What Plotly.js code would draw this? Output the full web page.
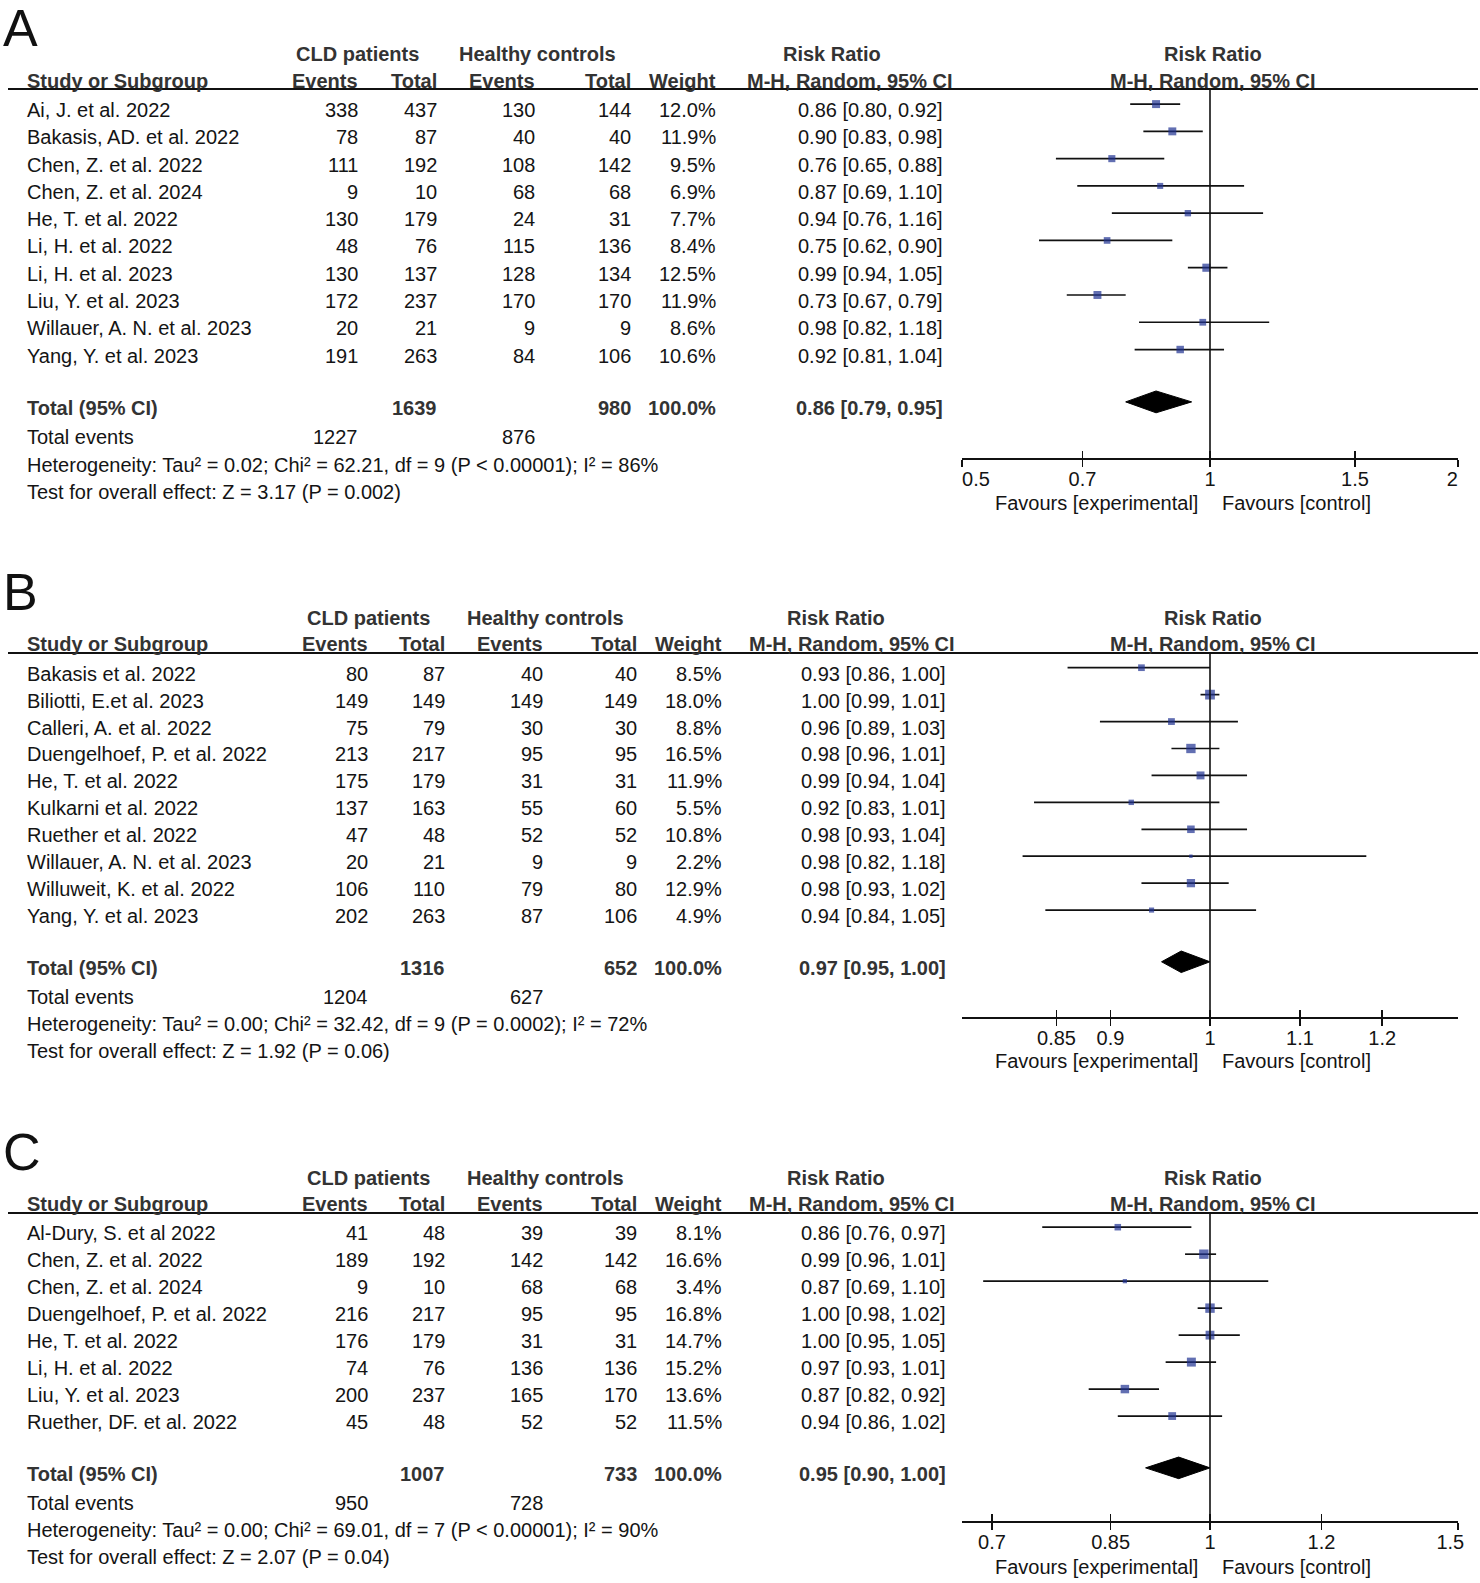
<!DOCTYPE html>
<html>
<head>
<meta charset="utf-8">
<script src="https://cdn.plot.ly/plotly-3.0.1.min.js"></script>
<style>
html,body{margin:0;padding:0;background:#ffffff;}
#chart{width:1480px;height:1583px;}
</style>
</head>
<body>
<div id="chart"></div>
<script>
// ================= DATA : Panel A =================
const studiesA = ["Ai, J. et al. 2022","Bakasis, AD. et al. 2022","Chen, Z. et al. 2022","Chen, Z. et al. 2024","He, T. et al. 2022","Li, H. et al. 2022","Li, H. et al. 2023","Liu, Y. et al. 2023","Willauer, A. N. et al. 2023","Yang, Y. et al. 2023"];
const evCldA  = [338, 78, 111, 9, 130, 48, 130, 172, 20, 191];
const totCldA = [437, 87, 192, 10, 179, 76, 137, 237, 21, 263];
const evHcA   = [130, 40, 108, 68, 24, 115, 128, 170, 9, 84];
const totHcA  = [144, 40, 142, 68, 31, 136, 134, 170, 9, 106];
const weightA = [12.0, 11.9, 9.5, 6.9, 7.7, 8.4, 12.5, 11.9, 8.6, 10.6];
const rrA     = [0.86, 0.90, 0.76, 0.87, 0.94, 0.75, 0.99, 0.73, 0.98, 0.92];
const loA     = [0.80, 0.83, 0.65, 0.69, 0.76, 0.62, 0.94, 0.67, 0.82, 0.81];
const hiA     = [0.92, 0.98, 0.88, 1.10, 1.16, 0.90, 1.05, 0.79, 1.18, 1.04];
const pooledA = [0.86, 0.79, 0.95];
const totalsA = [1639, 980];
const totalEventsA = [1227, 876];
const hetA  = "Heterogeneity: Tau² = 0.02; Chi² = 62.21, df = 9 (P < 0.00001); I² = 86%";
const testA = "Test for overall effect: Z = 3.17 (P = 0.002)";
const ticksA = [0.5, 0.7, 1, 1.5, 2];
const tickLabelsA = ["\u00a0\u00a0\u00a0\u00a0\u00a00.5", "0.7", "1", "1.5", "2\u00a0\u00a0"];
const axisRangeA = [0.5, 2];

// ================= DATA : Panel B =================
const studiesB = ["Bakasis et al. 2022","Biliotti, E.et al. 2023","Calleri, A. et al. 2022","Duengelhoef, P. et al. 2022","He, T. et al. 2022","Kulkarni et al. 2022","Ruether et al. 2022","Willauer, A. N. et al. 2023","Willuweit, K. et al. 2022","Yang, Y. et al. 2023"];
const evCldB  = [80, 149, 75, 213, 175, 137, 47, 20, 106, 202];
const totCldB = [87, 149, 79, 217, 179, 163, 48, 21, 110, 263];
const evHcB   = [40, 149, 30, 95, 31, 55, 52, 9, 79, 87];
const totHcB  = [40, 149, 30, 95, 31, 60, 52, 9, 80, 106];
const weightB = [8.5, 18.0, 8.8, 16.5, 11.9, 5.5, 10.8, 2.2, 12.9, 4.9];
const rrB     = [0.93, 1.00, 0.96, 0.98, 0.99, 0.92, 0.98, 0.98, 0.98, 0.94];
const loB     = [0.86, 0.99, 0.89, 0.96, 0.94, 0.83, 0.93, 0.82, 0.93, 0.84];
const hiB     = [1.00, 1.01, 1.03, 1.01, 1.04, 1.01, 1.04, 1.18, 1.02, 1.05];
const pooledB = [0.97, 0.95, 1.00];
const totalsB = [1316, 652];
const totalEventsB = [1204, 627];
const hetB  = "Heterogeneity: Tau² = 0.00; Chi² = 32.42, df = 9 (P = 0.0002); I² = 72%";
const testB = "Test for overall effect: Z = 1.92 (P = 0.06)";
const ticksB = [0.85, 0.9, 1, 1.1, 1.2];
const tickLabelsB = ["0.85", "0.9", "1", "1.1", "1.2"];
const axisRangeB = [1 / 1.3, 1.3];

// ================= DATA : Panel C =================
const studiesC = ["Al-Dury, S. et al 2022","Chen, Z. et al. 2022","Chen, Z. et al. 2024","Duengelhoef, P. et al. 2022","He, T. et al. 2022","Li, H. et al. 2022","Liu, Y. et al. 2023","Ruether, DF. et al. 2022"];
const evCldC  = [41, 189, 9, 216, 176, 74, 200, 45];
const totCldC = [48, 192, 10, 217, 179, 76, 237, 48];
const evHcC   = [39, 142, 68, 95, 31, 136, 165, 52];
const totHcC  = [39, 142, 68, 95, 31, 136, 170, 52];
const weightC = [8.1, 16.6, 3.4, 16.8, 14.7, 15.2, 13.6, 11.5];
const rrC     = [0.86, 0.99, 0.87, 1.00, 1.00, 0.97, 0.87, 0.94];
const loC     = [0.76, 0.96, 0.69, 0.98, 0.95, 0.93, 0.82, 0.86];
const hiC     = [0.97, 1.01, 1.10, 1.02, 1.05, 1.01, 0.92, 1.02];
const pooledC = [0.95, 0.90, 1.00];
const totalsC = [1007, 733];
const totalEventsC = [950, 728];
const hetC  = "Heterogeneity: Tau² = 0.00; Chi² = 69.01, df = 7 (P < 0.00001); I² = 90%";
const testC = "Test for overall effect: Z = 2.07 (P = 0.04)";
const ticksC = [0.7, 0.85, 1, 1.2, 1.5];
const tickLabelsC = ["0.7", "0.85", "1", "1.2", "1.5\u00a0\u00a0\u2009"];
const axisRangeC = [1 / 1.5, 1.5];

// ================= LAYOUT GEOMETRY (pixels) =================
const W = 1480, H = 1583;
const FONT = 'Arial, "Liberation Sans", Helvetica, sans-serif';
const HEAD = '#333333', BODY = '#141414', SQUARE = '#1f3292';
const colsA = {cld: 357.5, hc: 537, ev1: 360, tot1: 439, ev2: 537, tot2: 633, wt: 718, rr: 945, rrHead: 832, mh: 849.6};
const colsBC = {cld: 368.6, hc: 545.4, ev1: 369.5, tot1: 446.5, ev2: 545, tot2: 639, wt: 724, rr: 947.5, rrHead: 836, mh: 852.4};
const geo = {
  A: {letter: 28, head1: 53.5, head2: 81, rule: 89, row0: 110.1, step: 27.27, axis: 458, fav: 503, cols: colsA},
  B: {letter: 592, head1: 618, head2: 644.4, rule: 653, row0: 673.7, step: 26.93, axis: 1017, fav: 1061, cols: colsBC},
  C: {letter: 1152, head1: 1177.7, head2: 1204, rule: 1213, row0: 1233.2, step: 26.98, axis: 1521, fav: 1567, cols: colsBC}
};
const forestDomain = [962 / W, 1458 / W];

const traces = [];
const annotations = [];
const shapes = [];
const layout = {
  width: W, height: H,
  margin: {l: 0, r: 0, t: 0, b: 0},
  paper_bgcolor: '#ffffff', plot_bgcolor: 'rgba(0,0,0,0)',
  showlegend: false, hovermode: false,
  font: {family: FONT, color: BODY}
};

function txt(xp, yp, s, xa, opt) {
  opt = opt || {};
  annotations.push({
    xref: 'paper', yref: 'paper', x: xp / W, y: 1 - yp / H,
    text: s, showarrow: false, xanchor: xa, yanchor: 'middle',
    font: {family: FONT, size: opt.size || 20, color: opt.color || BODY}
  });
}

function buildPanel(key, idx, d) {
  const g = geo[key], c = g.cols, n = d.studies.length;
  const ty = r => g.row0 + g.step * r;
  const xName = idx === 1 ? 'x' : 'x' + idx;
  const yName = idx === 1 ? 'y' : 'y' + idx;
  const xoName = 'x' + (idx + 3);
  const xKey = idx === 1 ? 'xaxis' : 'xaxis' + idx;
  const yKey = idx === 1 ? 'yaxis' : 'yaxis' + idx;
  const xoKey = 'xaxis' + (idx + 3);

  // Panel letter
  txt(1, g.letter, key, 'left', {size: 52, color: '#111111'});

  // Column headers
  txt(c.cld, g.head1, '<b>CLD patients</b>', 'center', {color: HEAD});
  txt(c.hc, g.head1, '<b>Healthy controls</b>', 'center', {color: HEAD});
  txt(c.rrHead, g.head1, '<b>Risk Ratio</b>', 'center', {color: HEAD});
  txt(25, g.head2, '<b>Study or Subgroup</b>', 'left', {color: HEAD});
  txt(c.ev1, g.head2, '<b>Events</b>', 'right', {color: HEAD});
  txt(c.tot1, g.head2, '<b>Total</b>', 'right', {color: HEAD});
  txt(c.ev2, g.head2, '<b>Events</b>', 'right', {color: HEAD});
  txt(c.tot2, g.head2, '<b>Total</b>', 'right', {color: HEAD});
  txt(c.wt, g.head2, '<b>Weight</b>', 'right', {color: HEAD});
  txt(c.mh, g.head2, '<b>M-H, Random, 95% CI</b>', 'center', {color: HEAD});

  // Forest headers, centered on RR = 1 (log axis -> log10(1) = 0)
  [[g.head1, '<b>Risk Ratio</b>'], [g.head2, '<b>M-H, Random, 95% CI</b>']].forEach(h => {
    annotations.push({xref: xName, yref: 'paper', x: 0, y: 1 - h[0] / H, text: h[1], showarrow: false,
      xanchor: 'center', yanchor: 'middle', xshift: 3, font: {family: FONT, size: 20, color: HEAD}});
  });

  // Header rule
  shapes.push({type: 'line', xref: 'paper', yref: 'paper', x0: 8 / W, x1: 1478 / W,
    y0: 1 - g.rule / H, y1: 1 - g.rule / H, line: {color: '#111111', width: 2}});

  // Study rows
  d.studies.forEach((s, i) => {
    const y = ty(i);
    txt(25, y, s, 'left');
    txt(c.ev1, y, String(d.evCld[i]), 'right');
    txt(c.tot1, y, String(d.totCld[i]), 'right');
    txt(c.ev2, y, String(d.evHc[i]), 'right');
    txt(c.tot2, y, String(d.totHc[i]), 'right');
    txt(c.wt, y, d.weight[i].toFixed(1) + '%', 'right');
    txt(c.rr, y, d.rr[i].toFixed(2) + ' [' + d.lo[i].toFixed(2) + ', ' + d.hi[i].toFixed(2) + ']', 'right');
  });

  // Total rows
  const totalRow = n + 0.92;
  const yt = ty(totalRow);
  txt(25, yt, '<b>Total (95% CI)</b>', 'left', {color: HEAD});
  txt(c.tot1, yt, '<b>' + d.totals[0] + '</b>', 'right', {color: HEAD});
  txt(c.tot2, yt, '<b>' + d.totals[1] + '</b>', 'right', {color: HEAD});
  txt(c.wt, yt, '<b>100.0%</b>', 'right', {color: HEAD});
  txt(c.rr, yt, '<b>' + d.pooled[0].toFixed(2) + ' [' + d.pooled[1].toFixed(2) + ', ' + d.pooled[2].toFixed(2) + ']</b>', 'right', {color: HEAD});
  txt(25, ty(n + 2), 'Total events', 'left');
  txt(c.ev1, ty(n + 2), String(d.totalEvents[0]), 'right');
  txt(c.ev2, ty(n + 2), String(d.totalEvents[1]), 'right');
  txt(25, ty(n + 3), d.het, 'left');
  txt(25, ty(n + 4), d.test, 'left');

  // Forest y-axis: rows mapped so row r sits slightly above its text row
  const f0 = g.row0 - 6;
  const rowF = p => (p - f0) / g.step;
  layout[yKey] = {domain: [1 - g.axis / H, 1 - g.rule / H], range: [rowF(g.axis), rowF(g.rule)],
    visible: false, fixedrange: true};
  const rng = [Math.log10(d.range[0]) - 1e-4, Math.log10(d.range[1]) + 1e-4];
  layout[xKey] = {
    type: 'log', domain: forestDomain, range: rng, anchor: yName,
    showgrid: false, zeroline: false, showline: true, linecolor: '#111111', linewidth: 1.8,
    ticks: 'outside', ticklen: 7, tickwidth: 1.6, tickcolor: '#111111',
    tickmode: 'array', tickvals: d.ticks, ticktext: d.tickLabels, ticklabelstandoff: -5,
    ticklabeloverflow: 'allow',
    tickfont: {family: FONT, size: 20, color: BODY}, fixedrange: true
  };
  layout[xoKey] = {
    type: 'log', overlaying: xName, anchor: yName, range: rng, side: 'bottom',
    showgrid: false, zeroline: false, showline: false,
    ticks: 'inside', ticklen: 7, tickwidth: 1.6, tickcolor: '#111111',
    tickmode: 'array', tickvals: d.ticks, showticklabels: false, fixedrange: true
  };

  // Favours labels
  annotations.push({xref: xName, yref: 'paper', x: 0, y: 1 - g.fav / H, text: 'Favours [experimental]',
    showarrow: false, xanchor: 'right', yanchor: 'middle', xshift: -10, font: {family: FONT, size: 20, color: BODY}});
  annotations.push({xref: xName, yref: 'paper', x: 0, y: 1 - g.fav / H, text: 'Favours [control]',
    showarrow: false, xanchor: 'left', yanchor: 'middle', xshift: 10, font: {family: FONT, size: 20, color: BODY}});

  // Line of no effect
  traces.push({type: 'scatter', mode: 'lines', x: [1, 1], y: [rowF(g.rule), rowF(g.axis)],
    xaxis: xoName, yaxis: yName, line: {color: '#111111', width: 1.6}, hoverinfo: 'skip', cliponaxis: false});

  // Confidence interval lines
  const cx = [], cy = [];
  d.studies.forEach((s, i) => { cx.push(d.lo[i], d.hi[i], null); cy.push(i, i, null); });
  traces.push({type: 'scatter', mode: 'lines', x: cx, y: cy, xaxis: xName, yaxis: yName,
    line: {color: '#111111', width: 1.7}, hoverinfo: 'skip', connectgaps: false});

  // Study squares (size ~ sqrt of weight)
  traces.push({type: 'scatter', mode: 'markers', x: d.rr, y: d.studies.map((s, i) => i),
    xaxis: xName, yaxis: yName, hoverinfo: 'skip',
    marker: {symbol: 'square', color: SQUARE, size: d.weight.map(w => Math.max(3.4, 2.3 * Math.sqrt(w))), line: {width: 0}}});

  // Pooled diamond
  const p = d.pooled;
  traces.push({type: 'scatter', mode: 'lines', fill: 'toself', fillcolor: '#000000',
    x: [p[1], p[0], p[2], p[0], p[1]],
    y: [totalRow, totalRow - 0.4, totalRow, totalRow + 0.4, totalRow],
    xaxis: xName, yaxis: yName, line: {color: '#000000', width: 1}, hoverinfo: 'skip'});
}

buildPanel('A', 1, {studies: studiesA, evCld: evCldA, totCld: totCldA, evHc: evHcA, totHc: totHcA,
  weight: weightA, rr: rrA, lo: loA, hi: hiA, pooled: pooledA, totals: totalsA, totalEvents: totalEventsA,
  het: hetA, test: testA, ticks: ticksA, tickLabels: tickLabelsA, range: axisRangeA});
buildPanel('B', 2, {studies: studiesB, evCld: evCldB, totCld: totCldB, evHc: evHcB, totHc: totHcB,
  weight: weightB, rr: rrB, lo: loB, hi: hiB, pooled: pooledB, totals: totalsB, totalEvents: totalEventsB,
  het: hetB, test: testB, ticks: ticksB, tickLabels: tickLabelsB, range: axisRangeB});
buildPanel('C', 3, {studies: studiesC, evCld: evCldC, totCld: totCldC, evHc: evHcC, totHc: totHcC,
  weight: weightC, rr: rrC, lo: loC, hi: hiC, pooled: pooledC, totals: totalsC, totalEvents: totalEventsC,
  het: hetC, test: testC, ticks: ticksC, tickLabels: tickLabelsC, range: axisRangeC});

layout.annotations = annotations;
layout.shapes = shapes;

Plotly.newPlot('chart', traces, layout, {staticPlot: true, displayModeBar: false});
</script>
</body>
</html>
